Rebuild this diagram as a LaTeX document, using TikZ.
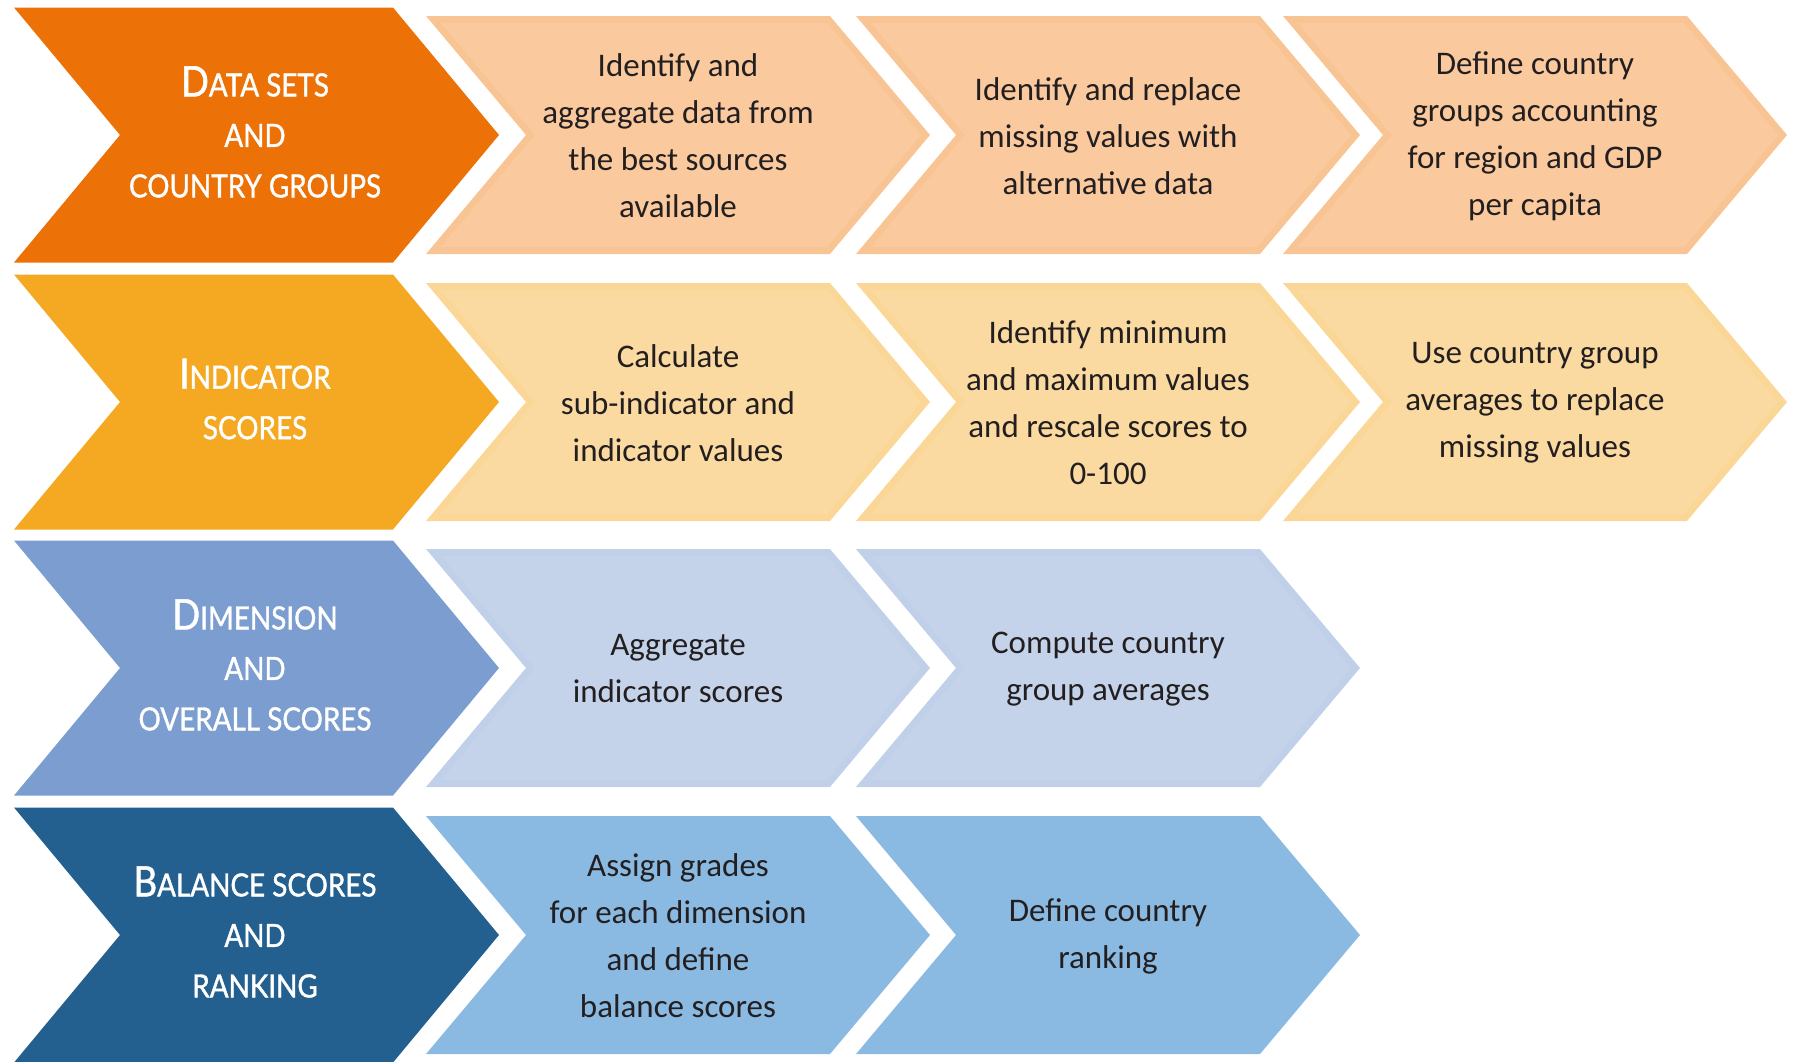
\documentclass[tikz,border=0pt]{standalone}
\usepackage{fontspec}
\setmainfont{Carlito}
\newfontfamily\capsfont[FakeStretch=0.87,FakeBold=1.2]{Lato}

\definecolor{orDark}{RGB}{236,113,7}
\definecolor{orLight}{RGB}{250,202,158}
\definecolor{yeDark}{RGB}{245,168,34}
\definecolor{yeLight}{RGB}{250,218,160}
\definecolor{lbDark}{RGB}{123,157,208}
\definecolor{lbLight}{RGB}{196,211,234}
\definecolor{dbDark}{RGB}{35,96,143}
\definecolor{dbLight}{RGB}{138,185,226}
\definecolor{bodyText}{RGB}{35,31,32}

% chevron: fill colour, left x, top y, width to the shoulder, height, point depth
\newcommand\chevron[6]{%
  \fill[#1] (#2,#3) -- ({#2+#4},#3) -- ({#2+#4+#6},{#3+#5/2})
    -- ({#2+#4},{#3+#5}) -- (#2,{#3+#5}) -- ({#2+#6},{#3+#5/2}) -- cycle;}

% step chevron with a faint frame: frame colour, inner colour, left x, centre y
\newcommand\stepchev[4]{%
  \chevron{#1}{#3}{#4-119}{404}{238}{100}
  \fill[#2] ({#3+15},{#4-112}) -- ({#3+401},{#4-112}) -- ({#3+495},#4)
    -- ({#3+401},{#4+112}) -- ({#3+15},{#4+112}) -- ({#3+109},#4) -- cycle;}

% small capitals built by hand
\newcommand\capinit[1]{{\fontsize{42}{50.5}\selectfont #1}}

\tikzset{
  headtext/.style={align=center, text=white,
    font=\capsfont\fontsize{32}{50.5}\selectfont},
  steptext/.style={align=center, text=bodyText,
    font=\fontsize{33}{47}\selectfont}
}

\begin{document}
\begin{tikzpicture}[x=1pt,y=-1pt]
\useasboundingbox (0,0) rectangle (1795,1061);

% row centres: 135, 402, 668, 935
% first column: section chevrons
\chevron{orDark}{14}{7.5}{379}{255}{106}
\chevron{yeDark}{14}{274.5}{379}{255}{106}
\chevron{lbDark}{14}{540.5}{379}{255}{106}
\chevron{dbDark}{14}{807.5}{379}{255}{106}

% step chevrons
\stepchev{orLight!93!orDark}{orLight}{426}{135}
\stepchev{orLight!93!orDark}{orLight}{856}{135}
\stepchev{orLight!93!orDark}{orLight}{1283}{135}
\stepchev{yeLight!93!yeDark}{yeLight}{426}{402}
\stepchev{yeLight!93!yeDark}{yeLight}{856}{402}
\stepchev{yeLight!93!yeDark}{yeLight}{1283}{402}
\stepchev{lbLight!95!lbDark}{lbLight}{426}{668}
\stepchev{lbLight!95!lbDark}{lbLight}{856}{668}
\stepchev{dbLight}{dbLight}{426}{935}
\stepchev{dbLight}{dbLight}{856}{935}

% section titles
\node[headtext] (h1) at (255,132) {\capinit{D}ATA SETS\\AND\\COUNTRY GROUPS};
\node[headtext] (h2) at (255,399) {\capinit{I}NDICATOR\\SCORES};
\node[headtext] (h3) at (255,665) {\capinit{D}IMENSION\\AND\\OVERALL SCORES};
\node[headtext] (h4) at (255,932) {\capinit{B}ALANCE SCORES\\AND\\RANKING};

% step texts
\node[steptext] (s11) at (678,136) {Identify and\\aggregate data from\\the best sources\\available};
\node[steptext] (s12) at (1108,136) {Identify and replace\\missing values with\\alternative data};
\node[steptext] (s13) at (1535,136) {Define country\\groups accounting\\for region and GDP\\per capita};
\node[steptext] (s21) at (678,403) {Calculate\\sub-indicator and\\indicator values};
\node[steptext] (s22) at (1108,403) {Identify minimum\\and maximum values\\and rescale scores to\\0-100};
\node[steptext] (s23) at (1535,403) {Use country group\\averages to replace\\missing values};
\node[steptext] (s31) at (678,669) {Aggregate\\indicator scores};
\node[steptext] (s32) at (1108,669) {Compute country\\group averages};
\node[steptext] (s41) at (678,936) {Assign grades\\for each dimension\\and define\\balance scores};
\node[steptext] (s42) at (1108,936) {Define country\\ranking};
\end{tikzpicture}
\end{document}
